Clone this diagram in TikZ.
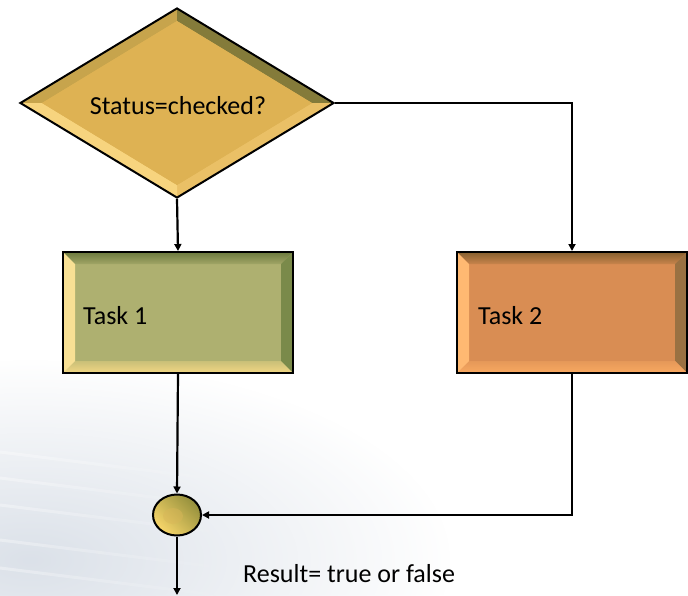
\documentclass[tikz,border=0pt]{standalone}
\usepackage{fontspec}
\setmainfont{Carlito}
\usetikzlibrary{shapes.geometric,arrows.meta,fadings}
\definecolor{bgtint}{HTML}{C8D1DD}
\definecolor{dmain}{HTML}{DEB253}
\definecolor{dtl}{HTML}{C7A44C}
\definecolor{dtr}{HTML}{847B3A}
\definecolor{dbr}{HTML}{EAC066}
\definecolor{dbl}{HTML}{F7D47E}
\definecolor{amain}{HTML}{AEB070}
\definecolor{atop}{HTML}{6C7A3E}
\definecolor{aright}{HTML}{7A8A4A}
\definecolor{abot}{HTML}{F2D784}
\definecolor{aleft}{HTML}{F8E094}
\definecolor{bmain}{HTML}{D98D53}
\definecolor{btop}{HTML}{86602F}
\definecolor{bright}{HTML}{9A7142}
\definecolor{bbot}{HTML}{F8A961}
\definecolor{bleft}{HTML}{FFB972}
\definecolor{clight}{HTML}{F8D66A}
\definecolor{cmid}{HTML}{D9B658}
\definecolor{cdark}{HTML}{948F3C}
\tikzfading[name=bgfade, inner color=transparent!35, outer color=transparent!100]
\tikzset{
  outline/.style={draw=black, line width=2pt},
  conn/.style={draw=black, line width=2.2pt, -{Triangle[length=7pt,width=7pt]}},
  lbl/.style={font=\fontsize{26}{30}\selectfont, inner sep=0pt, text=black},
}
\begin{document}
\begin{tikzpicture}[x=1pt,y=-1pt]
\useasboundingbox (0,0) rectangle (688,595);
\fill[white] (0,0) rectangle (688,595);
% background texture
\fill[bgtint, path fading=bgfade] (30,560) ellipse [x radius=420, y radius=200];
\foreach \yy in {452,478,505,540,568}{
  \draw[white, line width=3pt, opacity=0.35, path fading=east] (0,\yy) -- (240,\yy+30);
}
% diamond bevel
\fill[dmain] (20,103) -- (177,8) -- (334,103) -- (177,198) -- cycle;
\fill[dtl] (20,103) -- (177,8) -- (177,21) -- (42,103) -- cycle;
\fill[dtr] (177,8) -- (334,103) -- (312,103) -- (177,21) -- cycle;
\fill[dbr] (334,103) -- (177,198) -- (177,185) -- (312,103) -- cycle;
\fill[dbl] (177,198) -- (20,103) -- (42,103) -- (177,185) -- cycle;
\fill[dmain] (42,103) -- (177,21) -- (312,103) -- (177,185) -- cycle;
% task 1 bevel
\fill[amain] (63,252) rectangle (293,373);
\shade[top color=atop, bottom color=amain!80!atop] (63,252) -- (293,252) -- (281,264) -- (75,264) -- cycle;
\fill[aright] (293,252) -- (293,373) -- (281,361) -- (281,264) -- cycle;
\shade[top color=amain!60!abot, bottom color=abot] (63,373) -- (293,373) -- (281,361) -- (75,361) -- cycle;
\fill[aleft] (63,252) -- (75,264) -- (75,361) -- (63,373) -- cycle;
% task 2 bevel
\fill[bmain] (457,252) rectangle (687,373);
\shade[top color=btop, bottom color=bmain!80!btop] (457,252) -- (687,252) -- (675,264) -- (469,264) -- cycle;
\fill[bright] (687,252) -- (687,373) -- (675,361) -- (675,264) -- cycle;
\shade[top color=bmain!60!bbot, bottom color=bbot] (457,373) -- (687,373) -- (675,361) -- (469,361) -- cycle;
\fill[bleft] (457,252) -- (469,264) -- (469,361) -- (457,373) -- cycle;
% circle shading
\shade[shading=axis, top color=cdark, middle color=cmid, bottom color=clight, shading angle=-45]
  (177,515) ellipse [x radius=24, y radius=20.5];
\fill[cmid, opacity=0.45] (173,516) ellipse [x radius=10, y radius=8];
% nodes
\node[diamond, outline, minimum width=314pt, minimum height=190pt, aspect=1.65, inner sep=0pt] (dec) at (177,103) {};
\node[rectangle, outline, minimum width=230pt, minimum height=121pt, inner sep=0pt] (t1) at (178,312.5) {};
\node[rectangle, outline, minimum width=230pt, minimum height=121pt, inner sep=0pt] (t2) at (572,312.5) {};
\node[ellipse, outline, minimum width=48pt, minimum height=41pt, inner sep=0pt] (circ) at (177,515) {};
\coordinate (out) at (177,595);
% labels
\node[lbl] (declbl) at (178,106) {Status=checked?};
\node[lbl, anchor=west] (t1lbl) at (83,316) {Task 1};
\node[lbl, anchor=west] (t2lbl) at (478,316) {Task 2};
\node[lbl, anchor=west] (reslbl) at (243,574) {Result= true or false};
% connectors
\draw[conn] (dec.south) -- (t1.north);
\draw[conn] (dec.east) -| (t2.north);
\draw[conn] (t1.south) -- (circ.north);
\draw[conn] (t2.south) |- (circ.east);
\draw[conn] (circ.south) -- (out);
\end{tikzpicture}
\end{document}
